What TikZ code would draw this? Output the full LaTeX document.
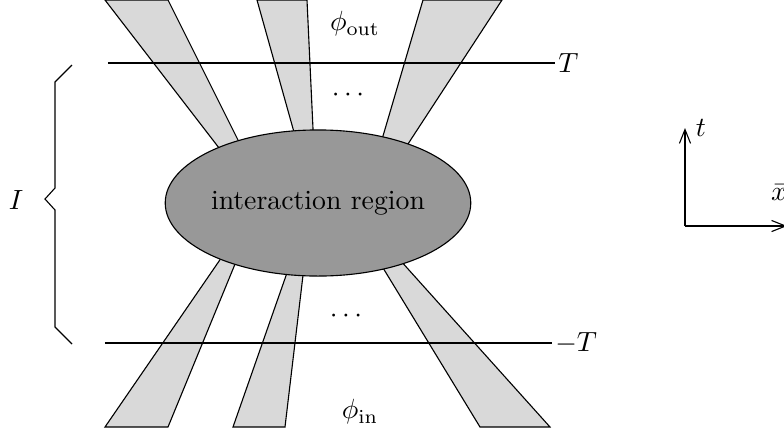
\documentclass[tikz,border=0pt]{standalone}
\usetikzlibrary{arrows.meta, shapes.geometric}
\definecolor{beamgray}{RGB}{217,217,217}
\definecolor{blobgray}{RGB}{152,152,152}

\begin{document}
\begin{tikzpicture}[
      x=0.36pt, y=-0.36pt,
      beam/.style={draw, fill=beamgray, line width=0.4pt},
      blob/.style={draw, ellipse, fill=blobgray, minimum width=110pt,
        minimum height=52.6pt, inner sep=0pt},
      slice/.style={line width=0.8pt},
      axis/.style={-{Straight Barb[length=5pt, width=4pt]}, line width=0.4pt},
      lab/.style={inner sep=1pt}
    ]
    \useasboundingbox (0,0) rectangle (784,433);

    % outgoing beams
    \filldraw[beam] (105,0) -- (168,0) -- (253,170) -- (236,170) -- cycle;
    \filldraw[beam] (257,0) -- (307,0) -- (314,150) -- (299,150) -- cycle;
    \filldraw[beam] (423,0) -- (502,0) -- (391,170) -- (373,170) -- cycle;
    % incoming beams
    \filldraw[beam] (105,427) -- (168,427) -- (247,235) -- (237,235) -- cycle;
    \filldraw[beam] (233,427) -- (285,427) -- (306,250) -- (295,250) -- cycle;
    \filldraw[beam] (480,427) -- (550,427) -- (382,240) -- (366,240) -- cycle;

    \node[blob] at (318,203) (region) {};
    \node at (region) (regionlab) {interaction region};

    % time slices
    \coordinate (topL) at (108,63);
    \coordinate (topR) at (555,63);
    \coordinate (botL) at (105,343);
    \coordinate (botR) at (552,343);
    \draw[slice] (topL) -- (topR);
    \draw[slice] (botL) -- (botR);
    \node[lab, right] at (topR) (tlab) {$T$};
    \node[lab, right] at (botR) (mtlab) {$-T$};

    \node at (348,95) (dotsout) {$\cdots$};
    \node at (346,316) (dotsin) {$\cdots$};
    \node at (355,24) (phiout) {$\phi_{\mathrm{out}}$};
    \node at (360,412) (phiin) {$\phi_{\mathrm{in}}$};

    % interval brace
    \draw[line width=0.4pt] (72,65) -- (55,82) -- (55,188) -- (45,199)
      -- (55,210) -- (55,327) -- (72,344);
    \node at (16,200) (ilab) {$I$};

    % axes
    \coordinate (origin) at (685,226);
    \coordinate (ttip) at (685,128);
    \coordinate (xtip) at (787,226);
    \draw[axis] (origin) -- (ttip);
    \draw[axis] (origin) -- (xtip);
    \node at (701,128) (tax) {$t$};
    \node at (779,193) (xax) {$\bar{x}$};
  \end{tikzpicture}
\end{document}
